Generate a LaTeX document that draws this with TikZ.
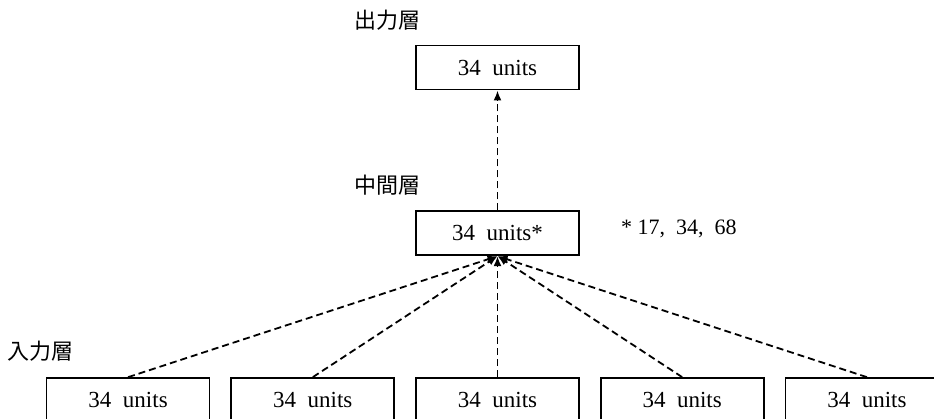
\documentclass[tikz,border=0pt]{standalone}
\usepackage{fontspec}
\setmainfont{Liberation Serif}
\newfontfamily\jpfont{Noto Sans CJK JP}
\usetikzlibrary{arrows.meta, positioning}

\begin{document}
\begin{tikzpicture}[x=1pt, y=1pt]
        \tikzstyle{unit}=[draw, line width=1.7pt, minimum width=163pt, minimum height=44pt, inner sep=0pt, font=\fontsize{23}{27}\selectfont]
        \tikzstyle{layer}=[inner sep=0pt, font=\jpfont\fontsize{22}{25}\selectfont]
        \tikzstyle{arrow} = [-{Latex[length=10pt, width=8pt]}, line width=1.8pt, dash pattern=on 7pt off 4pt]

        \clip (0,0) rectangle (934,418);

        % input layer
        \node[unit] (in3) at (497.5,18) {34\ \ units};
        \node[unit, left = 20pt of in3] (in2) {34\ \ units};
        \node[unit, left = 20pt of in2] (in1) {34\ \ units};
        \node[unit, right = 20pt of in3] (in4) {34\ \ units};
        \node[unit, right = 20pt of in4] (in5) {34\ \ units};

        % hidden and output layer
        \node[unit, above = 121pt of in3] (hidden) {34\ \ units*};
        \node[unit, above = 120pt of hidden] (output) {34\ \ units};

        \node[layer, above left = 16pt and -28pt of in1] (inlabel) {入力層};
        \node[layer, above left = 15pt and -6pt of hidden] (hiddenlabel) {中間層};
        \node[layer, above left = 14pt and -6pt of output] (outlabel) {出力層};

        \node[right = 41pt of hidden, yshift=4pt, inner sep=0pt, font=\fontsize{22}{26}\selectfont] (note) {* 17,\ \ 34,\ \ 68};

        \draw[arrow] (in1.north) -- (hidden.south);
        \draw[arrow] (in2.north) -- (hidden.south);
        \draw[arrow] (in3.north) -- (hidden.south);
        \draw[arrow] (in4.north) -- (hidden.south);
        \draw[arrow] (in5.north) -- (hidden.south);
        \draw[arrow] (hidden.north) -- (output.south);
    \end{tikzpicture}
\end{document}
